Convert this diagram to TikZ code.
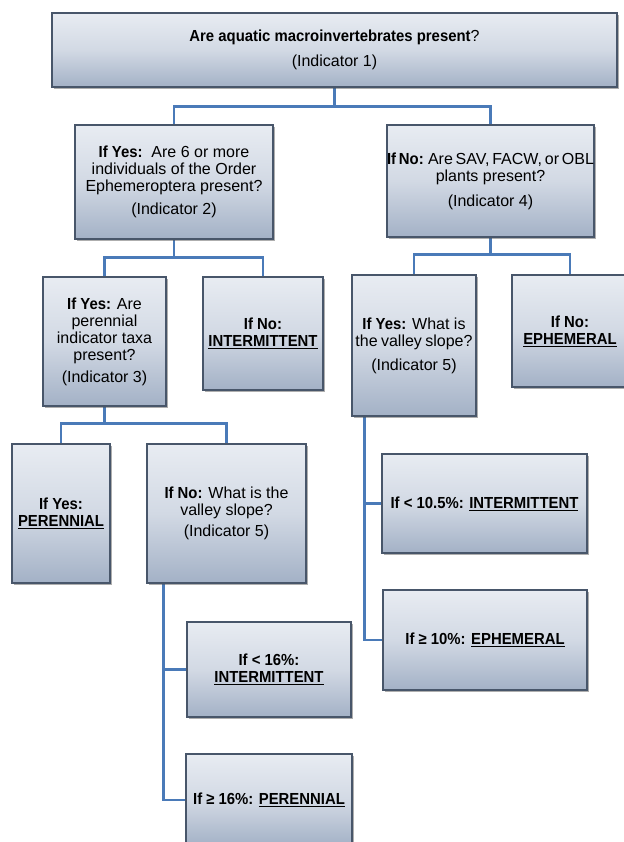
\documentclass[tikz,border=0pt]{standalone}
\usepackage{fontspec}
\setmainfont{Liberation Sans}
\newfontface\hd[FakeStretch=0.93]{Liberation Sans Bold}
\usetikzlibrary{shadows,backgrounds}
\definecolor{boxtop}{RGB}{232,236,242}
\definecolor{boxmid}{RGB}{210,217,228}
\definecolor{boxbot}{RGB}{163,177,198}
\definecolor{boxline}{RGB}{72,86,106}
\definecolor{connblue}{RGB}{74,122,184}
\tikzset{
  flowbox/.style={draw=boxline, line width=1.1bp,
    top color=boxtop, bottom color=boxbot, middle color=boxmid,
    drop shadow={shadow xshift=1.6bp, shadow yshift=-2bp, opacity=.45, fill=black!70},
    align=center, inner sep=0pt,
    font=\fontsize{16bp}{17bp}\selectfont},
  conn/.style={draw=connblue, line width=2.8bp, line join=miter}
}
\begin{document}
\begin{tikzpicture}[x=1bp,y=-1bp]
\useasboundingbox (0,0) rectangle (624,842);
\clip (0,0) rectangle (624,842);

\node[flowbox, minimum width=565bp, minimum height=74bp] (top) at (334.5,50)
  {{\hd Are aquatic macroinvertebrates present}?\\[8bp](Indicator 1)};

\node[flowbox, minimum width=198bp, minimum height=114bp] (A) at (174,182)
  {{\hd If Yes:}\ \ Are 6 or more\\individuals of the Order\\Ephemeroptera present?\\[6bp](Indicator 2)};

\node[flowbox, minimum width=207bp, minimum height=112bp] (B) at (490.5,181)
  {{\spaceskip=2.8bp\relax{\hd If No:} Are SAV, FACW, or OBL}\\plants present?\\[8bp](Indicator 4)};

\node[flowbox, minimum width=123bp, minimum height=129bp] (C) at (104.5,341.5)
  {{\hd If Yes:} Are\\perennial\\indicator taxa\\present?\\[5bp](Indicator 3)};

\node[flowbox, minimum width=120bp, minimum height=113bp] (D) at (263,333.5)
  {\hd If No:\\\hd\underline{INTERMITTENT}};

\node[flowbox, minimum width=124bp, minimum height=141bp] (E) at (414,345.5)
  {{\hd If Yes:} What is\\{\spaceskip=3.4bp\relax the valley slope?}\\[7bp](Indicator 5)};

\node[flowbox, minimum width=116bp, minimum height=112bp] (F) at (570,331)
  {\hd If No:\\\hd\underline{EPHEMERAL}};

\node[flowbox, minimum width=98bp, minimum height=139bp] (G) at (61,513.5)
  {\hd If Yes:\\\hd\underline{PERENNIAL}};

\node[flowbox, minimum width=159bp, minimum height=139bp] (H) at (226.5,513.5)
  {{\hd If No:} What is the\\valley slope?\\[4bp](Indicator 5)};

\node[flowbox, minimum width=164bp, minimum height=95bp] (I) at (269,669.5)
  {\hd If < 16\%:\\\hd\underline{INTERMITTENT}};

\node[flowbox, minimum width=166bp, minimum height=92bp] (J) at (269,800)
  {\hd If ≥ 16\%: \underline{PERENNIAL}};

\node[flowbox, minimum width=205bp, minimum height=99bp] (K) at (484.5,503.5)
  {\hd If < 10.5\%: \underline{INTERMITTENT}};

\node[flowbox, minimum width=204bp, minimum height=100bp] (L) at (485,640)
  {\hd If ≥ 10\%: \underline{EPHEMERAL}};

\begin{scope}[on background layer]
\draw[conn] (top.south) -- ++(0,19) -| (A.north);
\draw[conn] (top.south) -- ++(0,19) -| (B.north);
\draw[conn] (A.south) -- ++(0,18) -| (C.north);
\draw[conn] (A.south) -- ++(0,18) -| (D.north);
\draw[conn] (B.south) -- ++(0,17) -| (E.north);
\draw[conn] (B.south) -- ++(0,17) -| (F.north);
\draw[conn] (C.south) -- ++(0,17) -| (G.north);
\draw[conn] (C.south) -- ++(0,17) -| (H.north);
\draw[conn] ([xshift=17bp]H.south west) |- (I.west);
\draw[conn] ([xshift=17bp]H.south west) |- (J.west);
\draw[conn] ([xshift=13bp]E.south west) |- (K.west);
\draw[conn] ([xshift=13bp]E.south west) |- (L.west);
\end{scope}
\end{tikzpicture}
\end{document}
